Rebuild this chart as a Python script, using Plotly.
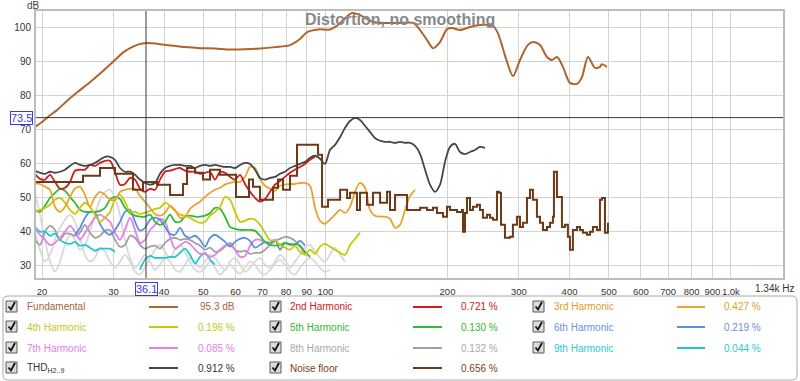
import math
import plotly.graph_objects as go

# ---------------- data ----------------
FREQ_GRID = [19.22, 19.77, 20.34, 20.93, 21.53, 22.15, 22.79, 23.44, 24.12, 24.81,
             25.53, 26.26, 27.02, 27.80, 28.60, 29.42, 30.27, 31.15, 32.04, 32.97,
             33.92, 34.89, 35.90, 36.93, 38.00, 39.09, 40.22, 41.38, 42.57, 43.80,
             45.06, 46.34, 47.69, 49.06, 50.47, 51.93, 53.42, 54.96, 56.55, 58.17,
             59.85, 61.57, 63.35, 65.17, 67.05, 68.98, 70.97, 73.01, 75.11, 77.27,
             79.50, 81.79, 84.14, 86.56, 89.06, 91.62, 94.26, 96.98, 99.77, 102.6,
             105.6, 108.7, 111.8, 115.0, 118.3, 121.7, 125.2, 128.8, 132.5, 136.4,
             140.3, 144.3, 148.5, 152.8, 157.2, 161.7, 166.4, 171.2, 176.1, 181.1,
             186.3, 191.7, 197.2, 202.9, 208.7, 214.7, 220.9, 227.3, 233.8, 240.5, 247.5]

FUND_FREQ = [19.22, 20.0, 20.69, 21.78, 23.05, 24.47, 26.26, 28.28, 30.27, 31.6, 32.97, 34.6,
             36.31, 38.43, 41.38, 45.06, 49.06, 53.42, 58.17, 63.35, 68.98, 75.11, 81.79,
             86.56, 90.1, 96.0, 102.6, 107.4, 111.8, 116.3, 121.7, 131.0, 141.9, 152.8,
             164.5, 171.2, 178.1, 184.2, 191.7, 199.5, 205.6, 214.7, 227.3, 240.5, 259.1,
             266.3, 279.5, 290.2, 301.9, 315.5, 324.9, 338.2, 351.9, 362.0, 372.5, 385.3,
             400.9, 417.2, 429.2, 444.2, 462.1, 475.4, 480.8, 494.5]
FUND_DB = [70.8, 72.2, 73.7, 75.7, 78.4, 81.0, 83.9, 87.2, 90.4, 92.5, 93.9, 95.0,
           95.4, 95.2, 94.7, 94.2, 93.9, 93.8, 93.5, 93.6, 93.8, 94.2, 94.8,
           96.6, 98.6, 99.4, 99.4, 100.7, 102.7, 104.2, 103.6, 101.6, 101.3, 101.3,
           101.3, 99.2, 96.3, 93.9, 95.7, 99.5, 99.8, 99.2, 100.1, 100.7, 100.4,
           98.3, 90.4, 85.7, 90.4, 94.8, 95.7, 94.8, 91.3, 90.4, 91.3, 88.4,
           83.7, 83.4, 85.4, 91.3, 88.1, 88.4, 89.2, 88.4]

H2_DB = [57.0, 55.5, 55.3, 56.7, 54.6, 52.6, 52.9, 54.6, 57.9, 58.2,
         58.2, 59.6, 59.3, 60.2, 60.8, 60.8, 57.6, 53.8, 54.0, 55.8,
         55.3, 52.6, 51.7, 52.6, 52.3, 55.3, 57.6, 57.9, 58.4, 58.7,
         57.9, 57.6, 57.6, 57.0, 57.3, 57.6, 55.3, 57.6, 57.3, 56.1,
         55.3, 56.7, 54.0, 51.7, 49.9, 48.8, 49.6, 51.7, 53.8, 54.9,
         56.1, 57.3, 58.2, 59.0, 59.9, 61.1, 62.0]

H3_DB = [54.3, 54.0, 53.2, 52.3, 47.3, 45.8, 47.3, 50.2, 52.6, 53.2,
         50.8, 47.3, 50.2, 51.7, 50.8, 49.4, 49.4, 51.7, 52.3, 52.6,
         52.6, 50.5, 48.8, 47.0, 45.2, 44.7, 45.5, 47.6, 46.4, 44.1,
         44.4, 46.7, 47.9, 48.8, 50.2, 51.4, 52.3, 52.9, 53.8, 54.3,
         54.6, 54.6, 56.1, 59.0, 58.7, 55.3, 53.5, 52.6, 52.0, 53.5,
         53.8, 54.0, 54.0, 54.3, 54.3, 53.5, 47.0, 43.2, 42.3, 43.5,
         45.0, 46.4, 45.5, 47.3, 51.7, 54.3, 52.9, 46.4, 44.7, 44.4,
         44.4, 43.8, 41.1, 42.0, 46.4, 50.5, 52.3]

H4_DB = [45.8, 46.4, 47.0, 47.9, 49.4, 49.9, 48.5, 46.4, 45.2, 47.0,
         48.5, 47.3, 45.0, 42.9, 44.1, 45.8, 49.4, 50.8, 48.8, 45.8,
         45.8, 45.2, 45.5, 46.1, 46.7, 47.0, 48.5, 47.6, 46.1, 45.0,
         44.7, 44.1, 43.2, 42.6, 42.9, 44.7, 45.8, 47.3, 50.2, 49.4,
         45.8, 42.9, 43.2, 43.8, 43.5, 42.0, 39.7, 37.5, 37.5, 36.1,
         35.3, 34.7, 35.8, 34.1, 33.2, 34.7, 33.5, 35.6, 36.4, 35.6,
         34.7, 33.8, 33.2, 36.1, 37.9, 39.7]

H5_DB = [46.4, 45.8, 47.6, 49.9, 51.4, 52.6, 52.0, 50.2, 48.5, 46.4,
         45.8, 45.8, 45.8, 46.1, 47.0, 49.4, 50.2, 49.6, 47.0, 45.5,
         44.7, 44.4, 44.4, 45.0, 42.9, 42.0, 42.9, 45.0, 42.9, 42.9,
         44.4, 44.7, 44.4, 44.4, 44.7, 45.5, 47.0, 46.7, 44.4, 41.4,
         40.8, 40.5, 40.5, 40.5, 40.3, 38.8, 37.0, 36.1, 35.9, 36.1,
         36.7, 36.1, 36.4, 35.9, 34.1, 32.6]

H6_DB = [None, None, None, None, None, None, None, None,
         39.1, 41.1, 44.1, 45.8, 45.5, 42.3, 40.0, 39.1, 40.5, 42.9,
         45.8, 46.4, 42.9, 40.3, 41.1, 43.5, 44.1, 43.5, 41.4, 39.4,
         39.1, 41.1, 38.8, 38.2, 38.8, 37.6, 35.6, 38.2, 39.1, 38.2,
         37.0, 35.6, 37.0, 37.9, 38.2, 37.3, 35.3, 36.1, 37.0, 36.7,
         37.6, 34.7, 36.7, 36.4, 36.1, 37.3, 35.9]

H7_DB = [41.1, 39.1, 37.6, 36.1, 36.7, 38.2, 40.0, 41.7, 40.0, 37.6,
         39.7, 42.0, 44.1, 45.0, 44.1, 42.9, 39.7, 37.6, 40.5, 44.1,
         40.5, 36.7, 37.6, 40.5, 42.0, 43.8, 42.9, 38.5, 35.0, 35.9,
         37.0, 36.4, 34.7, 33.5, 33.5, 32.6, 33.2, 34.7, 35.9, 36.1,
         34.7, 32.6, 32.9, 35.9, 37.6, 37.6, 36.7]

H8_DB = [37.6, 36.1, 40.0, 41.7, 40.5, 37.6, 39.4, 39.4, 38.8, 39.7,
         42.0, 39.7, 38.2, 38.8, 40.3, 40.5, 37.6, 35.6, 36.1, 38.8,
         38.2, 36.1, 35.0, 35.6, 35.9, 35.0, 36.7, 37.9, 38.2, 37.6,
         37.9, 37.6, 36.7, 35.9, 34.7, 35.3, 34.1, 34.4, 35.6, 36.7,
         34.7, 34.1, 34.4, 33.5, 33.8, 33.8, 34.7, 36.1, 37.3, 37.9,
         38.5, 38.2, 37.3, 35.6, 33.5]

H9_DB = [41.4, 40.0, 40.0, 38.8, 39.4, 37.6, 36.7, 36.4, 37.0, 35.9,
         36.1, 35.3, 34.4, 35.0, 35.0, 35.0, 34.1, None, None, None,
         None, 28.8, 31.8, 32.9, 32.3, 32.3, 32.3, 32.6, 32.6, 33.8,
         35.0, 33.2, 30.6, 32.6, 33.8, 31.8, 30.3]

FAINT_A_DB = [51.4, 45.0, 37.6, 31.2, 28.2, 31.2, 36.1, 39.1, 37.6, 34.7,
              36.1, 40.0, 45.0, 49.4, 51.7, 52.3, 49.9, 45.0, 37.6, 32.3,
              29.4, 31.2, 33.2, 31.2, 28.8, 30.3, 32.3, 31.2, 28.8, 28.2,
              30.3, 32.3, 31.2, 29.4, 31.2, 33.2, 32.3, 30.3, 28.8, 31.2,
              32.3, 30.3, 28.2, 29.4, 31.2, 32.3, 30.3, 29.4, 31.2, 33.2,
              31.8, 29.4, 31.2, 33.2, 35.3, 36.1, 34.1, 32.3, 31.2, 33.2,
              35.3, 33.2, 31.2]

FAINT_B_DB = [40.0, 34.7, 31.2, 33.2, 37.6, 41.1, 43.5, 45.0, 42.9, 38.2,
              33.2, 31.2, 32.3, 35.3, 34.1, 31.2, 29.4, 31.2, 33.2, 31.2,
              28.2, 27.4, 29.4, 32.3, 34.7, 36.1, 34.1, 32.3, 34.7, 36.1,
              34.1, 31.2, 28.8, 28.2, 29.4, 31.2, 29.4, 27.4, 28.8, 30.3,
              28.8, 27.6, 29.4, 31.2, 30.3, 28.2, 27.4, 28.8, 30.6, 31.8,
              30.3, 28.2, 27.4, 29.4, 31.2, 32.3, 31.2, 29.4, 28.2, 28.8]

THD_DB = [57.9, 57.3, 57.0, 57.6, 57.3, 57.6, 58.2, 59.3, 60.2, 59.6,
          59.3, 59.6, 60.2, 61.1, 62.0, 62.0, 61.1, 58.7, 57.6, 57.6,
          56.7, 55.3, 54.3, 53.8, 54.3, 57.0, 58.7, 59.3, 59.6, 59.6,
          59.3, 59.3, 58.7, 59.3, 59.6, 59.3, 59.6, 59.3, 59.0, 59.0,
          58.7, 59.6, 60.2, 59.9, 58.2, 55.8, 55.3, 55.8, 56.1, 57.0,
          57.6, 58.7, 59.3, 59.9, 60.5, 61.7, 62.3, 61.4, 59.9, 64.0,
          65.5, 67.8, 70.5, 72.5, 73.4, 72.8, 71.1, 69.3, 67.5, 66.7,
          66.4, 66.4, 66.1, 66.4, 66.1, 66.1, 65.2, 62.8, 58.2, 53.8,
          51.7, 53.8, 60.5, 64.9, 65.8, 63.4, 62.8, 63.4, 64.0, 64.9, 64.6]

NOISE_FREQ = [19.22, 25.24, 27.80, 30.27, 33.53, 35.49, 38.43, 41.38, 44.55, 45.57,
              47.69, 49.9, 51.93, 54.96, 60.19, 64.8, 66.29, 68.98, 74.26, 76.4,
              78.6, 81.79, 85.1, 95.9, 98.1, 101.5, 108.7, 113.1, 115.0, 119.6,
              121.7, 126.6, 131.0, 136.4, 141.9, 144.3, 148.5, 155.4, 159.0, 164.5,
              171.2, 178.1, 184.2, 188.4, 195.0, 199.5, 202.9, 211.1, 217.1, 218.4,
              220.9, 223.4, 227.3, 231.2, 236.5, 240.5, 244.6, 250.3, 254.6, 258.9,
              264.9, 267.9, 271.0, 277.2, 285.2, 290.0, 296.7, 301.9, 307.0, 314.1,
              319.5, 324.9, 332.4, 338.2, 344.0, 351.9, 357.9, 364.0, 366.1, 372.4,
              383.1, 389.7, 396.3, 400.9, 407.7, 417.2, 424.4, 431.6, 441.6, 449.2,
              456.8, 467.4, 475.4, 480.8, 489.1, 497.5]
NOISE_DB = [54.6, 56.4, 58.7, 57.0, 52.3, 54.6, 53.8, 50.8, 54.0, 58.7,
            57.3, 55.3, 58.2, 56.7, 50.2, 55.3, 53.2, 49.4, 52.9, 55.3,
            52.3, 56.4, 65.5, 62.6, 47.3, 49.4, 52.3, 49.9, 51.4, 46.4,
            51.4, 47.9, 51.4, 48.5, 51.7, 46.4, 50.8, 50.8, 46.4, 46.4,
            47.0, 46.4, 47.0, 45.5, 44.4, 47.3, 46.4, 45.8, 46.4, 40.0,
            45.5, 49.9, 46.4, 47.3, 47.9, 46.4, 44.1, 45.0, 44.1, 43.5,
            51.7, 51.4, 42.0, 38.2, 38.5, 42.0, 44.4, 41.4, 42.6, 49.9,
            52.3, 49.4, 44.4, 42.6, 40.5, 41.4, 42.6, 44.4, 57.6, 50.2,
            41.4, 42.0, 38.5, 34.7, 40.5, 41.4, 40.5, 39.7, 39.1, 40.0,
            41.4, 40.5, 49.4, 49.9, 39.7, 42.6]

CURSOR_FREQ = 36.1
CURSOR_DB = 73.5

X_TICKS = [20, 30, 40, 50, 60, 70, 80, 90, 100, 200, 300, 400, 500, 600, 700, 800, 900, 1000]
X_TICK_TEXT = ["20", "30", "40", "50", "60", "70", "80", "90", "100", "200", "300", "400",
               "500", "600", "700", "800", "900", "1.0k"]
Y_TICKS = [30, 40, 50, 60, 70, 80, 90, 100]
X_RANGE = [19.22, 1352]
Y_RANGE = [26.1, 105.1]

LEGEND_NAMES = [["Fundamental", "2nd Harmonic", "3rd Harmonic"],
                ["4th Harmonic", "5th Harmonic", "6th Harmonic"],
                ["7th Harmonic", "8th Harmonic", "9th Harmonic"],
                ["THD<sub>H2..9</sub>", "Noise floor", None]]
LEGEND_VALUES = [["95.3 dB", "0.721 %", "0.427 %"],
                 ["0.196 %", "0.130 %", "0.219 %"],
                 ["0.085 %", "0.132 %", "0.044 %"],
                 ["0.912 %", "0.656 %", None]]

# ---------------- styles ----------------
C_FUND = "#b0642c"
C_H2 = "#d01c1c"
C_H3 = "#eba22e"
C_H4 = "#c8c80a"
C_H5 = "#33bb33"
C_H6 = "#5a8ee0"
C_H7 = "#e680e6"
C_H8 = "#a0a0a0"
C_H9 = "#22c8d0"
C_FAINT = "#d9d9d9"
C_THD = "#454545"
C_NOISE = "#6b3a18"
LINE_COLORS = [[C_FUND, C_H2, C_H3], [C_H4, C_H5, C_H6], [C_H7, C_H8, C_H9], [C_THD, C_NOISE, None]]
TEXT_COLORS = [["#a8643a", "#cc2020", "#e39a2a"], ["#c8c820", "#33b833", "#6890e0"],
               ["#e27ee2", "#a8a8a8", "#30c8cc"], ["#333333", "#7a4020", None]]

FONT = "Liberation Sans, Arial, sans-serif"
PL, PT, PW, PH = 35, 10, 749, 269


def px(x):
    return (x - PL) / PW


def py(y):
    return (PT + PH - y) / PH


fig = go.Figure()


def add_curve(vals, color, width=1.8, shape="spline", freqs=None):
    f = freqs if freqs is not None else FREQ_GRID[:len(vals)]
    line = dict(color=color, width=width, shape=shape)
    if shape == "spline":
        line["smoothing"] = 0.8
    fig.add_trace(go.Scatter(x=f, y=vals, mode="lines", line=line,
                             hoverinfo="skip", showlegend=False))


add_curve(FAINT_B_DB, C_FAINT)
add_curve(FAINT_A_DB, C_FAINT)
add_curve(H8_DB, C_H8)
add_curve(H9_DB, C_H9)
add_curve(H7_DB, C_H7)
add_curve(H6_DB, C_H6)
add_curve(H5_DB, C_H5)
add_curve(H4_DB, C_H4)
add_curve(H3_DB, C_H3)
add_curve(H2_DB, C_H2)
add_curve(THD_DB, C_THD)
add_curve(NOISE_DB, C_NOISE, width=2, shape="hv", freqs=NOISE_FREQ)
add_curve(FUND_DB, C_FUND, width=2, freqs=FUND_FREQ)

# cursor cross-hair
fig.add_trace(go.Scatter(x=[CURSOR_FREQ, CURSOR_FREQ], y=Y_RANGE, mode="lines",
                         line=dict(color="#3a3a3a", width=1), hoverinfo="skip", showlegend=False))
fig.add_trace(go.Scatter(x=X_RANGE, y=[CURSOR_DB, CURSOR_DB], mode="lines",
                         line=dict(color="#3a3a3a", width=1), hoverinfo="skip", showlegend=False))

shapes = []
annotations = []

# plot frame
shapes.append(dict(type="rect", xref="paper", yref="paper", x0=0, x1=1, y0=0, y1=1,
                   line=dict(color="#bdbdbd", width=2), layer="above"))

# title + labels
annotations.append(dict(text="<b>Distortion, no smoothing</b>", xref="paper", yref="paper",
                        x=px(400), y=py(19), yanchor="middle", showarrow=False,
                        font=dict(family=FONT, size=16, color="#888888")))
annotations.append(dict(text="dB", xref="paper", yref="paper", x=px(25), y=py(5),
                        yanchor="middle", showarrow=False,
                        font=dict(family=FONT, size=10, color="#444")))
annotations.append(dict(text="1.34k Hz", xref="paper", yref="paper", x=px(796), y=py(288),
                        xanchor="right", yanchor="middle", showarrow=False,
                        font=dict(family=FONT, size=10, color="#333")))
annotations.append(dict(text="73.5", xref="paper", yref="y", x=px(33), y=CURSOR_DB,
                        xanchor="right", yanchor="middle", showarrow=False, bgcolor="white",
                        bordercolor="#3b3bdd", borderwidth=1, borderpad=0,
                        font=dict(family=FONT, size=11, color="#3b3bdd")))
annotations.append(dict(text="36.1", xref="x", yref="paper", x=math.log10(CURSOR_FREQ),
                        y=py(289), yanchor="middle", showarrow=False, bgcolor="white",
                        bordercolor="#3b3bdd", borderwidth=1, borderpad=0,
                        font=dict(family=FONT, size=11, color="#3b3bdd")))

# legend panel (rounded box)
bx0, by0, bx1, by1, r = 3, 296, 797, 380, 5
path = (f"M {px(bx0 + r)},{py(by0)} L {px(bx1 - r)},{py(by0)} "
        f"Q {px(bx1)},{py(by0)} {px(bx1)},{py(by0 + r)} L {px(bx1)},{py(by1 - r)} "
        f"Q {px(bx1)},{py(by1)} {px(bx1 - r)},{py(by1)} L {px(bx0 + r)},{py(by1)} "
        f"Q {px(bx0)},{py(by1)} {px(bx0)},{py(by1 - r)} L {px(bx0)},{py(by0 + r)} "
        f"Q {px(bx0)},{py(by0)} {px(bx0 + r)},{py(by0)} Z")
shapes.append(dict(type="path", xref="paper", yref="paper", path=path,
                   line=dict(color="#a8a8a8", width=1), fillcolor="white", layer="below"))

ROW_Y = [307, 327, 348, 368]
COLS = [dict(chk=6, name=25, l0=149, l1=178, val=237),
        dict(chk=270, name=288, l0=413, l1=442, val=500),
        dict(chk=533, name=552, l0=677, l1=705, val=763)]

for ri, ry in enumerate(ROW_Y):
    for ci, col in enumerate(COLS):
        name = LEGEND_NAMES[ri][ci]
        if name is None:
            continue
        cx = col["chk"]
        shapes.append(dict(type="rect", xref="paper", yref="paper",
                           x0=px(cx), x1=px(cx + 11), y0=py(ry - 6), y1=py(ry + 5),
                           line=dict(color="#5a5a5a", width=1), fillcolor="#dcdcdc"))
        chk = (f"M {px(cx + 2.5)},{py(ry - 0.5)} L {px(cx + 5)},{py(ry + 2.5)} "
               f"L {px(cx + 9)},{py(ry - 5)}")
        shapes.append(dict(type="path", xref="paper", yref="paper", path=chk,
                           line=dict(color="#111", width=1.8)))
        annotations.append(dict(text=name, xref="paper", yref="paper", x=px(col["name"]),
                                y=py(ry), xanchor="left", yanchor="middle", showarrow=False,
                                font=dict(family=FONT, size=10, color=TEXT_COLORS[ri][ci])))
        shapes.append(dict(type="line", xref="paper", yref="paper",
                           x0=px(col["l0"]), x1=px(col["l1"]), y0=py(ry), y1=py(ry),
                           line=dict(color=LINE_COLORS[ri][ci], width=2)))
        annotations.append(dict(text=LEGEND_VALUES[ri][ci], xref="paper", yref="paper",
                                x=px(col["val"]), y=py(ry), xanchor="right", yanchor="middle",
                                showarrow=False,
                                font=dict(family=FONT, size=10, color=TEXT_COLORS[ri][ci])))

fig.update_layout(
    width=800, height=381,
    margin=dict(l=PL, r=800 - PL - PW, t=PT, b=381 - PT - PH),
    paper_bgcolor="white", plot_bgcolor="white",
    showlegend=False,
    font=dict(family=FONT, size=10, color="#333"),
    shapes=shapes, annotations=annotations,
    xaxis=dict(type="log", range=[math.log10(X_RANGE[0]), math.log10(X_RANGE[1])],
               tickvals=X_TICKS, ticktext=X_TICK_TEXT, tickangle=0, showgrid=True,
               gridcolor="#d3d3d3", gridwidth=1, zeroline=False, ticks="outside",
               ticklen=4, tickcolor="rgba(0,0,0,0)",
               tickfont=dict(family=FONT, size=9.5, color="#333"), showline=False,
               automargin=False),
    yaxis=dict(range=Y_RANGE, tickvals=Y_TICKS, showgrid=True, gridcolor="#d3d3d3",
               gridwidth=1, zeroline=False, ticks="", ticklabelstandoff=3,
               tickfont=dict(family=FONT, size=10, color="#333"), showline=False,
               automargin=False),
)

fig.write_html("out.html", config={"displayModeBar": False},
               post_script="document.body.style.margin='0px';document.body.style.padding='0px';")
